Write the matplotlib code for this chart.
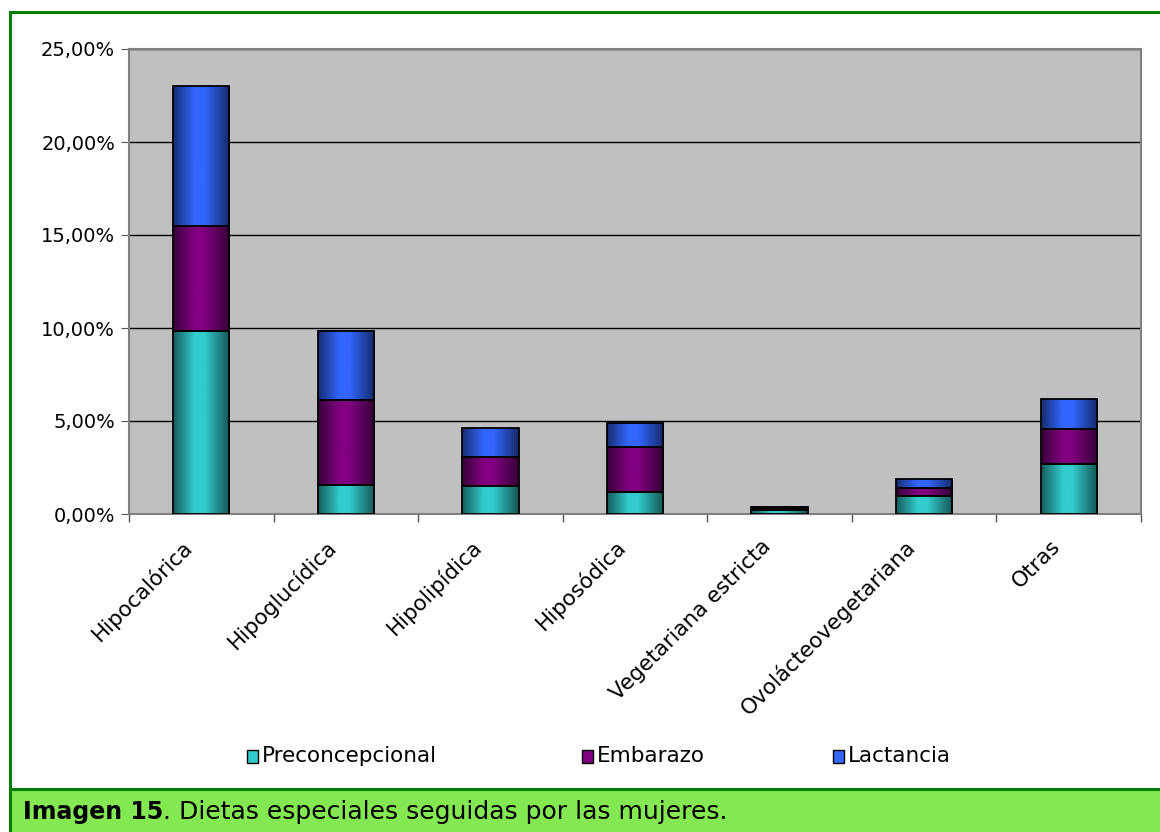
import numpy as np
import matplotlib
matplotlib.use('Agg')
import matplotlib.pyplot as plt
import matplotlib.patches as mpatches
import matplotlib.ticker as mticker
import matplotlib.transforms as mtransforms
from matplotlib.colors import to_rgb

categories = ['Hipocalórica', 'Hipoglucídica', 'Hipolipídica', 'Hiposódica',
              'Vegetariana estricta', 'Ovolácteovegetariana', 'Otras']
preconcepcional = [9.84, 1.56, 1.49, 1.17, 0.20, 0.97, 2.70]
embarazo = [5.64, 4.57, 1.57, 2.43, 0.10, 0.44, 1.89]
lactancia = [7.52, 3.71, 1.54, 1.29, 0.08, 0.47, 1.59]
series = ['Preconcepcional', 'Embarazo', 'Lactancia']
colors = ['#33CCCC', '#800080', '#3366FF']

plt.rcParams['font.family'] = ['DejaVu Sans']

W, H = 1160, 832
fig = plt.figure(figsize=(W / 100, H / 100), dpi=100)
px = lambda x: x / W
py = lambda y: 1 - y / H

# outer green frame and caption band
fig.add_artist(plt.Line2D([px(10), 1], [py(12), py(12)], color='#008000', lw=2.2))
fig.add_artist(plt.Line2D([px(10), px(10)], [py(12), 0], color='#008000', lw=2.2))
fig.add_artist(mpatches.Rectangle((px(10), 0), 1, py(789), transform=fig.transFigure,
                                  facecolor='#84E852', edgecolor='none'))
fig.add_artist(plt.Line2D([px(10), 1], [py(789), py(789)], color='#008000', lw=2.2))

renderer = fig.canvas.get_renderer()
t1 = fig.text(px(23), py(812), 'Imagen 15', fontsize=17, fontweight='bold', va='center')
bb = t1.get_window_extent(renderer)
fig.text(bb.x1 / W, py(812), '. Dietas especiales seguidas por las mujeres.',
         fontsize=18, va='center')

ax = fig.add_axes([px(129), py(514), px(1012), 465 / H])
ax.set_facecolor('#C0C0C0')

x = np.arange(len(categories))
width = 0.39


def gradient_fill(ax, rect, color):
    # horizontal shading: darker edges, light band left of centre
    t = np.linspace(0, 1, 64)
    f = np.interp(t, [0, 0.38, 0.55, 1], [0.45, 1.0, 1.0, 0.42])
    rgb = np.array(to_rgb(color))
    img = (f[:, None] * rgb[None, :])[None, :, :]
    x0, y0 = rect.get_x(), rect.get_y()
    w, h = rect.get_width(), rect.get_height()
    ax.imshow(img, extent=(x0, x0 + w, y0, y0 + h), aspect='auto',
              interpolation='bilinear', zorder=2)
    return img


bottom = np.zeros(len(categories))
for vals, c in zip([preconcepcional, embarazo, lactancia], colors):
    bars = ax.bar(x, vals, width, bottom=bottom, facecolor='none',
                  edgecolor='black', linewidth=1.3, zorder=3)
    for r in bars:
        gradient_fill(ax, r, c)
    bottom += np.array(vals)

ax.set_xlim(-0.5, len(categories) - 0.5)
ax.set_ylim(0, 25)
ax.yaxis.set_major_locator(mticker.MultipleLocator(5))
ax.yaxis.set_major_formatter(mticker.FuncFormatter(
    lambda v, p: f'{v:.2f}%'.replace('.', ',')))
ax.grid(axis='y', color='black', lw=1, zorder=1)
ax.set_axisbelow(True)

ax.set_xticks(x)
ax.set_xticklabels(categories, rotation=45, ha='right', va='center',
                   rotation_mode='anchor')
ax.set_xticks(np.arange(-0.5, len(categories)), minor=True)
ax.tick_params(axis='x', which='major', length=0, labelsize=15.5, pad=14)
ax.tick_params(axis='x', which='minor', length=6, color='#555555', width=1)
ax.tick_params(axis='y', length=6, color='#555555', labelsize=14, pad=4)

# nudge the slanted labels down and to the left
shift = mtransforms.ScaledTranslation(-12 / 100, -10 / 100, fig.dpi_scale_trans)
for lab in ax.get_xticklabels():
    lab.set_transform(lab.get_transform() + shift)

for s in ax.spines.values():
    s.set_color('#808080')
    s.set_linewidth(1.5)

# legend row under the chart
legend_x = [247, 582, 833]
for name, c, lx in zip(series, colors, legend_x):
    fig.add_artist(mpatches.Rectangle((px(lx), py(763)), px(11), 13 / H,
                                      transform=fig.transFigure, facecolor=c,
                                      edgecolor='black', lw=1))
    fig.text(px(lx + 15), py(756), name, fontsize=15.5, va='center')

fig.savefig('out.png', dpi=100)
